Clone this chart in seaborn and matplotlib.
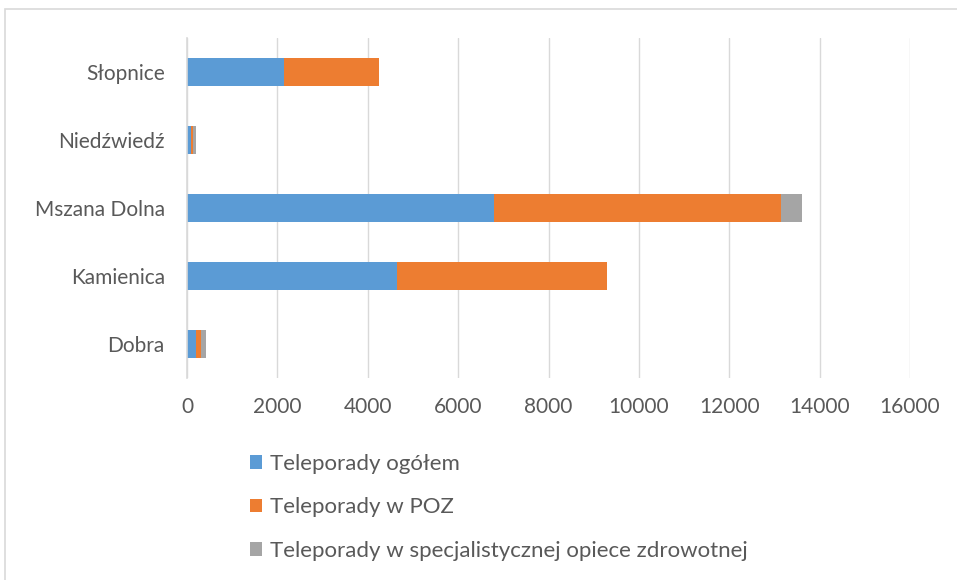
import matplotlib
matplotlib.use("Agg")
import matplotlib.pyplot as plt
import seaborn as sns
import pandas as pd
import numpy as np
from matplotlib.patches import Rectangle, Patch

gminy = ["Słopnice", "Niedźwiedź", "Mszana Dolna", "Kamienica", "Dobra"]
ogolem = [2146, 88, 6790, 4646, 200]
poz = [2102, 37, 6352, 4646, 110]
spec = [0, 75, 458, 0, 100]
series_names = ["Teleporady ogółem", "Teleporady w POZ",
                "Teleporady w specjalistycznej opiece zdrowotnej"]
colors = ["#5B9BD5", "#ED7D31", "#A5A5A5"]
xticks = [0, 2000, 4000, 6000, 8000, 10000, 12000, 14000, 16000]

sns.set_theme(style="white")
plt.rcParams["font.family"] = ["Lato", "DejaVu Sans"]

df = pd.DataFrame({"gmina": gminy, "ogolem": ogolem, "poz": poz, "spec": spec})
df["c1"] = df["ogolem"]
df["c2"] = df["c1"] + df["poz"]
df["c3"] = df["c2"] + df["spec"]

fig = plt.figure(figsize=(9.57, 5.8), dpi=100)
ax = fig.add_axes([187/957, 1-378/580, (910-187)/957, 340/580])

for col, c in zip(["c3", "c2", "c1"], colors[::-1]):
    sns.barplot(data=df, x=col, y="gmina", order=gminy, color=c,
                width=0.4, ax=ax, saturation=1, orient="h", linewidth=0)

ax.set_xlim(0, 16000)
ax.set_ylim(4.5, -0.5)
ax.set_xticks(xticks)
ax.set_xticklabels([str(v) for v in xticks])
ax.set_xlabel("")
ax.set_ylabel("")
ax.grid(axis="x", color="#d9d9d9", linewidth=1)
ax.set_axisbelow(True)
for s in ["top", "right", "bottom"]:
    ax.spines[s].set_visible(False)
ax.spines["left"].set_color("#d9d9d9")
ax.spines["left"].set_linewidth(1.2)
ax.tick_params(axis="both", colors="#595959", labelsize=15, length=0)
ax.tick_params(axis="x", pad=14)
ax.tick_params(axis="y", pad=16)

handles = [Patch(facecolor=c, edgecolor="none") for c in colors]
fig.legend(handles, series_names, loc="upper left",
           bbox_to_anchor=(230/957, 1-434/580), frameon=False,
           fontsize=16, labelcolor="#595959", handlelength=0.55,
           handleheight=0.55, handletextpad=0.35, labelspacing=1.05)

fig.patches.append(Rectangle((5/957, -0.1), 1.2, 1.1-9/580, transform=fig.transFigure,
                             fill=False, edgecolor="#d9d9d9", linewidth=1.2))

fig.savefig("out.png", dpi=100)
